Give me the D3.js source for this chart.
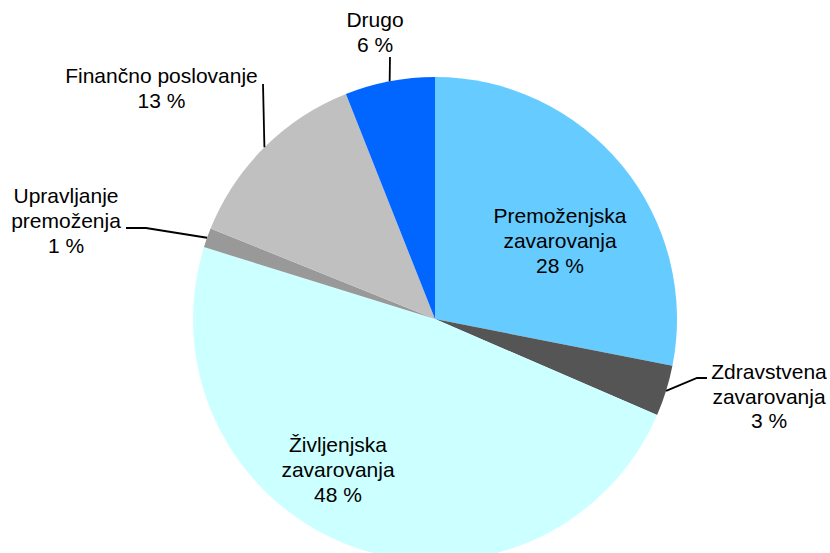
<!DOCTYPE html>
<html><head><meta charset="utf-8">
<script src="https://cdn.jsdelivr.net/npm/d3@7"></script>
<style>body{margin:0;background:#fff}svg{display:block}text{font-family:"Liberation Sans",Arial,sans-serif;font-size:21px;fill:#000}</style>
</head><body><svg id="c" width="830" height="553"></svg>
<script>
const categories = ["Premoženjska zavarovanja", "Zdravstvena zavarovanja", "Življenjska zavarovanja", "Upravljanje premoženja", "Finančno poslovanje", "Drugo"];
const labelLines = [["Premoženjska","zavarovanja"],["Zdravstvena","zavarovanja"],["Življenjska","zavarovanja"],["Upravljanje","premoženja"],["Finančno poslovanje"],["Drugo"]];
const values = [28.1, 3.4, 48.3, 1.3, 12.9, 6.0];
const shownPct = [28, 3, 48, 1, 13, 6];
const colors = ["#66CCFF", "#555555", "#CCFFFF", "#999999", "#C0C0C0", "#0066FF"];

// layout (not data)
const cx = 435, cy = 319, R = 242;
const labelLayout = [
  {x:560, y:223, dy:25, lead:null},
  {x:769, y:379, dy:24.5, lead:[[707,378],[697,378]]},
  {x:338, y:452, dy:25, lead:null},
  {x:66, y:203, dy:25, lead:[[126,228],[146,228]]},
  {x:161.5, y:83, dy:25, lead:[[263,84]]},
  {x:375, y:27, dy:25, lead:[[390,57]]}
];

const svg = d3.select("#c");
const g = svg.append("g").attr("transform", `translate(${cx},${cy})`);
const pie = d3.pie().sort(null).value(d => d)(values);
const arc = d3.arc().innerRadius(0).outerRadius(R);
g.selectAll("path").data(pie).join("path")
  .attr("d", arc).attr("fill", (d,i) => colors[i]);

// leader lines
pie.forEach((d,i) => {
  const L = labelLayout[i];
  if (!L.lead) return;
  const a = (d.startAngle + d.endAngle) / 2;
  const edge = [cx + R*Math.sin(a), cy - R*Math.cos(a)];
  const pts = L.lead.concat([edge]);
  svg.append("path").attr("d", d3.line()(pts))
    .attr("fill","none").attr("stroke","#000").attr("stroke-width",1.8);
});

// labels
categories.forEach((c,i) => {
  const L = labelLayout[i];
  const lines = labelLines[i].concat([shownPct[i] + " %"]);
  const t = svg.append("text").attr("text-anchor","middle");
  lines.forEach((s,k) => t.append("tspan").attr("x", L.x).attr("y", L.y + k*L.dy).text(s));
});
</script></body></html>
